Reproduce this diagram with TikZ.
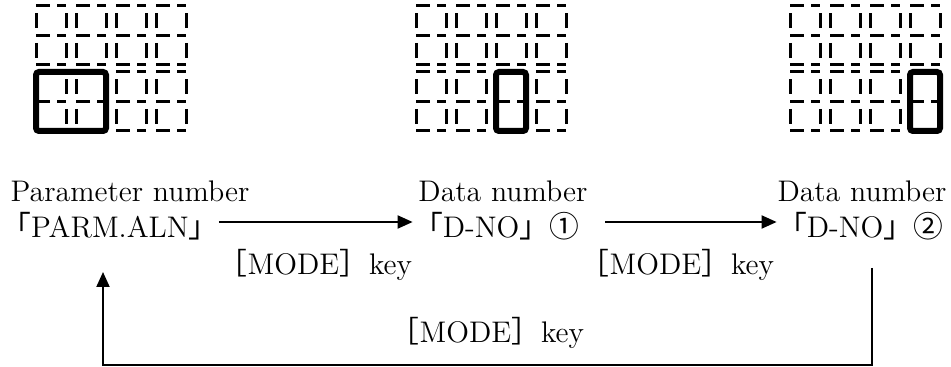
\documentclass[tikz,border=0pt]{standalone}
\usepackage{fontspec}
\newfontfamily\cjkfont{Noto Sans CJK JP}
\usetikzlibrary{arrows.meta}
\newcommand\jp[1]{{\cjkfont #1}}
\tikzset{
  hseg/.style={line width=1.5pt, dash pattern=on 7pt off 3.5pt},
  vseg/.style={line width=1.5pt},
  cursor/.style={line width=3pt, rounded corners=1.5pt},
  txt/.style={font=\fontsize{14.9}{18}\selectfont, inner sep=0pt},
  flow/.style={-{Triangle[length=7.5pt,width=6.5pt]}, line width=1pt}
}
% one 4x2 seven-segment panel, #1 = left edge
\newcommand\lcdpanel[1]{%
  \foreach \ytop in {6,72}{
    \foreach \yy in {0,29.5,59}{
      \foreach \d in {0,...,3}{
        \draw[hseg] (#1+40*\d,\ytop+\yy) -- ++(30,0);
      }
    }
    \foreach \yy in {0,29.5}{
      \foreach \d in {0,...,3}{
        \draw[vseg] (#1+40*\d,\ytop+\yy+7.5) -- ++(0,15);
        \draw[vseg] (#1+40*\d+30,\ytop+\yy+7.5) -- ++(0,15);
      }
    }
  }%
}
\begin{document}
\begin{tikzpicture}[x=0.5pt,y=-0.5pt]
\useasboundingbox (0,0) rectangle (951,367);

% panels
\lcdpanel{36}
\lcdpanel{416}
\lcdpanel{790}

% blinking digits
\draw[cursor] (36,72) rectangle (106,131);
\draw[cursor] (496,72) rectangle (526,131);
\draw[cursor] (910,72) rectangle (940,131);

% labels
\node[txt, anchor=base] (parmhead) at (130,202) {Parameter number};
\node[txt, anchor=base] (parm) at (110,238) {\jp{「}PARM.ALN\jp{」}};
\node[txt, anchor=base] (dnohead1) at (503,202) {Data number};
\node[txt, anchor=base] (dno1) at (496,238) {\jp{「}D-NO\jp{」①}};
\node[txt, anchor=base] (dnohead2) at (862,202) {Data number};
\node[txt, anchor=base] (dno2) at (860,238) {\jp{「}D-NO\jp{」②}};
\node[txt, anchor=base] (key1) at (315,275) {\jp{［}MODE\jp{］}key};
\node[txt, anchor=base] (key2) at (677,275) {\jp{［}MODE\jp{］}key};
\node[txt, anchor=base] (key3) at (487,343) {\jp{［}MODE\jp{］}key};

% transitions
\coordinate (flowy) at (0,222);
\coordinate (retstart) at (872,268);
\coordinate (retbase) at (0,365);
\coordinate (retend) at (103,272);
\draw[flow] (parm.east |- flowy) -- (dno1.west |- flowy);
\draw[flow, shorten <=13pt] (dno1.east |- flowy) -- (dno2.west |- flowy);
\draw[flow] (retstart) -- (retstart |- retbase) -| (retend);

\end{tikzpicture}
\end{document}
